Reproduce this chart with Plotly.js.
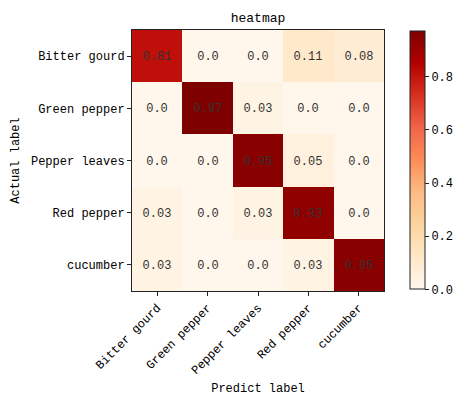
<!DOCTYPE html>
<html>
<head>
<meta charset="utf-8">
<script src="https://cdn.plot.ly/plotly-3.0.1.min.js"></script>
<style>html,body{margin:0;padding:0;background:#fff;}#chart{width:466px;height:396px;}</style>
</head>
<body>
<div id="chart"></div>
<script>
var predictLabels = ["Bitter gourd", "Green pepper", "Pepper leaves", "Red pepper", "cucumber"];
var actualLabels = ["Bitter gourd", "Green pepper", "Pepper leaves", "Red pepper", "cucumber"];
var rowBitterGourd = [0.81, 0.0, 0.0, 0.11, 0.08];
var rowGreenPepper = [0.0, 0.97, 0.03, 0.0, 0.0];
var rowPepperLeaves = [0.0, 0.0, 0.95, 0.05, 0.0];
var rowRedPepper = [0.03, 0.0, 0.03, 0.93, 0.0];
var rowCucumber = [0.03, 0.0, 0.0, 0.03, 0.95];
var colorbarTicks = [0.0, 0.2, 0.4, 0.6, 0.8];

var z = [rowBitterGourd, rowGreenPepper, rowPepperLeaves, rowRedPepper, rowCucumber];
var text = z.map(function(r){ return r.map(function(v){ return v === 0 ? "0.0" : String(v); }); });

var font = "Liberation Mono, DejaVu Sans Mono, monospace";
var orrd = [
  [0, "#fff7ec"], [0.125, "#fee8c8"], [0.25, "#fdd49e"], [0.375, "#fdbb84"],
  [0.5, "#fc8d59"], [0.625, "#ef6548"], [0.75, "#d7301f"], [0.875, "#b30000"], [1, "#7f0000"]
];

var trace = {
  type: "heatmap",
  x: predictLabels,
  y: actualLabels,
  z: z,
  text: text,
  texttemplate: "%{text}",
  textfont: {family: font, size: 12, color: "#333"},
  colorscale: orrd,
  zmin: 0,
  zmax: 0.97,
  hoverongaps: false,
  colorbar: {
    x: 1.103, xanchor: "left", xref: "paper",
    y: 0.006, yanchor: "bottom", yref: "paper",
    len: 0.99, lenmode: "fraction",
    thickness: 15, thicknessmode: "pixels",
    outlinewidth: 1, outlinecolor: "#222",
    ticks: "outside", ticklen: 4, tickcolor: "#222",
    tickvals: colorbarTicks, ticktext: colorbarTicks.map(function(v){return v.toFixed(1);}),
    tickfont: {family: font, size: 12, color: "#000"},
    xpad: 0, ypad: 0
  }
};

var layout = {
  width: 466, height: 396,
  margin: {l: 132, r: 73, t: 30, b: 105, pad: 0},
  paper_bgcolor: "#fff", plot_bgcolor: "#fff",
  title: {text: "heatmap", font: {family: font, size: 13, color: "#000"}, x: 0.5, xref: "paper", y: 1 - 17/396, yanchor: "middle"},
  xaxis: {
    type: "category",
    tickangle: -45,
    ticks: "outside", ticklen: 4, tickcolor: "#222",
    showline: true, mirror: true, linecolor: "#222", linewidth: 1,
    showgrid: false, zeroline: false,
    tickfont: {family: font, size: 12, color: "#000"},
    title: {text: "Predict label", font: {family: font, size: 12, color: "#000"}, standoff: 6}
  },
  yaxis: {
    type: "category",
    autorange: "reversed",
    ticks: "outside", ticklen: 4, tickcolor: "#222",
    showline: true, mirror: true, linecolor: "#222", linewidth: 1,
    showgrid: false, zeroline: false,
    tickfont: {family: font, size: 12, color: "#000"},
    title: {text: "Actual label", font: {family: font, size: 12, color: "#000"}, standoff: 8}
  }
};

Plotly.newPlot("chart", [trace], layout, {displayModeBar: false, staticPlot: true});
</script>
</body>
</html>
